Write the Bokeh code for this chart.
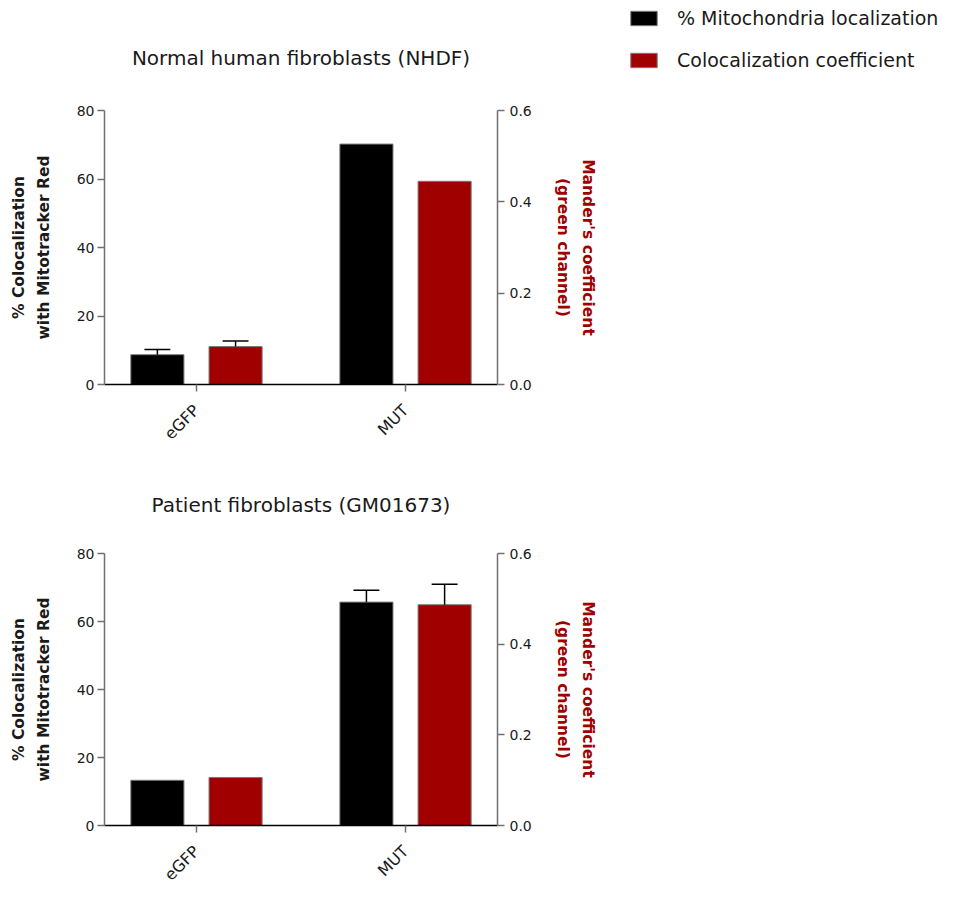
from math import pi
from bokeh.plotting import figure
from bokeh.models import (Range1d, LinearAxis, FixedTicker, Legend, LegendItem,
                          PrintfTickFormatter)
from bokeh.layouts import column, row
from bokeh.embed import file_html
from bokeh.resources import INLINE

# ---------------- data ----------------
categories = ["eGFP", "MUT"]
cat_pos = [0, 1]
series_names = ["% Mitochondria localization", "Colocalization coefficient"]
panel_titles = ["Normal human fibroblasts (NHDF)", "Patient fibroblasts (GM01673)"]
left_ticks = [0, 20, 40, 60, 80]
right_ticks = [0.0, 0.2, 0.4, 0.6]
left_label = ["% Colocalization", "with Mitotracker Red"]
right_label = ["Mander's coefficient", "(green channel)"]

nhdf_mito = [8.7, 70.2]
nhdf_mito_err = [1.5, 0.0]
nhdf_coef = [0.083, 0.445]
nhdf_coef_err = [0.012, 0.0]

gm_mito = [13.3, 65.7]
gm_mito_err = [0.0, 3.5]
gm_coef = [0.106, 0.487]
gm_coef_err = [0.0, 0.045]

BLACK = "#000000"
RED = "#A00000"
EDGE = "#7a7a7a"
AXIS_GREY = "#707070"
TXT = "#1a1a1a"
FONT = "DejaVu Sans"
LABEL_SIZE = "15.5px"

OFFSET = 0.187
BAR_W = 0.254
CAP = 0.124


def blank_axis(label, color, standoff, **kw):
    ax = LinearAxis(ticker=FixedTicker(ticks=[]), axis_label=label, **kw)
    ax.axis_line_color = None
    ax.major_tick_line_color = None
    ax.minor_tick_line_color = None
    ax.major_tick_out = 0
    ax.major_tick_in = 0
    ax.major_label_text_font_size = "0px"
    ax.major_label_standoff = 0
    ax.axis_label_standoff = standoff
    ax.axis_label_text_font = FONT
    ax.axis_label_text_font_style = "bold"
    ax.axis_label_text_font_size = LABEL_SIZE
    ax.axis_label_text_color = color
    return ax


def make_panel(title, mito, mito_err, coef, coef_err, height, top, bottom, title_standoff):
    p = figure(width=600, height=height, x_range=Range1d(-0.44, 1.44), y_range=Range1d(0, 80),
               output_backend="svg", toolbar_location=None,
               min_border_left=104, min_border_right=103,
               min_border_top=top, min_border_bottom=bottom)
    p.extra_y_ranges = {"coef": Range1d(0, 0.6)}
    p.outline_line_color = None
    p.xgrid.visible = False
    p.ygrid.visible = False
    p.background_fill_color = "white"
    p.border_fill_color = "white"

    # title
    p.title.text = title
    p.title.align = "center"
    p.title.text_font = FONT
    p.title.text_font_style = "normal"
    p.title.text_font_size = "20px"
    p.title.text_color = TXT
    p.title.standoff = title_standoff

    # left axis
    ya = p.yaxis[0]
    ya.ticker = FixedTicker(ticks=left_ticks)
    ya.axis_line_color = AXIS_GREY
    ya.axis_line_width = 1.5
    ya.major_tick_line_color = AXIS_GREY
    ya.major_tick_line_width = 1.5
    ya.major_tick_in = 0
    ya.major_tick_out = 7
    ya.minor_tick_line_color = None
    ya.major_label_text_font = FONT
    ya.major_label_text_font_size = "14px"
    ya.major_label_text_color = TXT
    ya.major_label_standoff = 3
    ya.axis_label = left_label[1]
    ya.axis_label_standoff = 21
    ya.axis_label_text_font = FONT
    ya.axis_label_text_font_style = "bold"
    ya.axis_label_text_font_size = LABEL_SIZE
    ya.axis_label_text_color = TXT
    p.add_layout(blank_axis(left_label[0], TXT, 4), "left")

    # right axis
    ra = LinearAxis(y_range_name="coef", ticker=FixedTicker(ticks=right_ticks),
                    formatter=PrintfTickFormatter(format="%.1f"))
    ra.axis_line_color = AXIS_GREY
    ra.axis_line_width = 1.5
    ra.major_tick_line_color = AXIS_GREY
    ra.major_tick_line_width = 1.5
    ra.major_tick_in = 0
    ra.major_tick_out = 7
    ra.minor_tick_line_color = None
    ra.major_label_text_font = FONT
    ra.major_label_text_font_size = "14px"
    ra.major_label_text_color = TXT
    ra.major_label_standoff = 5
    ra.axis_label = right_label[1]
    ra.axis_label_standoff = 19
    ra.axis_label_text_font = FONT
    ra.axis_label_text_font_style = "bold"
    ra.axis_label_text_font_size = LABEL_SIZE
    ra.axis_label_text_color = RED
    p.add_layout(ra, "right")
    p.add_layout(blank_axis(right_label[0], RED, 4, y_range_name="coef"), "right")

    # x axis
    xa = p.xaxis[0]
    xa.ticker = FixedTicker(ticks=cat_pos)
    xa.major_label_overrides = {c: n for c, n in zip(cat_pos, categories)}
    xa.axis_line_color = BLACK
    xa.axis_line_width = 1.5
    xa.major_tick_line_color = AXIS_GREY
    xa.major_tick_line_width = 1.5
    xa.major_tick_in = 0
    xa.major_tick_out = 7
    xa.minor_tick_line_color = None
    xa.major_label_orientation = pi / 4
    xa.major_label_text_font = FONT
    xa.major_label_text_font_size = "16px"
    xa.major_label_text_color = TXT
    xa.major_label_standoff = 16

    # bars
    xb = [c - OFFSET for c in cat_pos]
    xr = [c + OFFSET for c in cat_pos]
    p.vbar(x=xb, top=mito, width=BAR_W, bottom=0, fill_color=BLACK,
           line_color=EDGE, line_width=1)
    p.vbar(x=xr, top=coef, width=BAR_W, bottom=0, fill_color=RED,
           line_color=EDGE, line_width=1, y_range_name="coef")

    # error bars (upper only)
    ebx = [x for x, e in zip(xb, mito_err) if e > 0]
    eby0 = [v for v, e in zip(mito, mito_err) if e > 0]
    eby1 = [v + e for v, e in zip(mito, mito_err) if e > 0]
    if ebx:
        p.segment(x0=ebx, y0=eby0, x1=ebx, y1=eby1, line_color=BLACK, line_width=1.5)
        p.segment(x0=[x - CAP / 2 for x in ebx], y0=eby1, x1=[x + CAP / 2 for x in ebx],
                  y1=eby1, line_color=BLACK, line_width=1.5)
    erx = [x for x, e in zip(xr, coef_err) if e > 0]
    ery0 = [v for v, e in zip(coef, coef_err) if e > 0]
    ery1 = [v + e for v, e in zip(coef, coef_err) if e > 0]
    if erx:
        p.segment(x0=erx, y0=ery0, x1=erx, y1=ery1, line_color=BLACK, line_width=1.5,
                  y_range_name="coef")
        p.segment(x0=[x - CAP / 2 for x in erx], y0=ery1, x1=[x + CAP / 2 for x in erx],
                  y1=ery1, line_color=BLACK, line_width=1.5, y_range_name="coef")
    return p


p1 = make_panel(panel_titles[0], nhdf_mito, nhdf_mito_err, nhdf_coef, nhdf_coef_err,
                454, 110, 70, 81)
p2 = make_panel(panel_titles[1], gm_mito, gm_mito_err, gm_coef, gm_coef_err,
                439, 99, 66, 73)

# legend panel: key swatches (bars themselves lie outside this panel's visible range)
lg = figure(width=360, height=90, x_range=Range1d(-0.44, 1.44), y_range=Range1d(1000, 1001),
            output_backend="svg", toolbar_location=None,
            min_border_left=27, min_border_top=7, min_border_right=0, min_border_bottom=0)
lg.axis.visible = False
lg.grid.visible = False
lg.outline_line_color = None
lg.border_fill_color = "white"
lg.background_fill_color = "white"
kb = lg.vbar(x=[c - OFFSET for c in cat_pos], top=nhdf_mito, width=BAR_W,
             fill_color=BLACK, line_color=EDGE, line_width=1)
kr = lg.vbar(x=[c + OFFSET for c in cat_pos], top=nhdf_coef, width=BAR_W,
             fill_color=RED, line_color=EDGE, line_width=1)
legend = Legend(items=[LegendItem(label=series_names[0], renderers=[kb]),
                       LegendItem(label=series_names[1], renderers=[kr])],
                location="top_left", orientation="vertical",
                border_line_color=None, background_fill_alpha=0,
                padding=0, margin=0, spacing=20, glyph_width=33, glyph_height=18,
                label_standoff=17, label_text_font=FONT, label_text_font_size="19px",
                label_text_color=TXT, label_height=18)
lg.add_layout(legend, "center")

layout = row(column(p1, p2), lg)
open("out.html", "w").write(file_html(layout, INLINE))
